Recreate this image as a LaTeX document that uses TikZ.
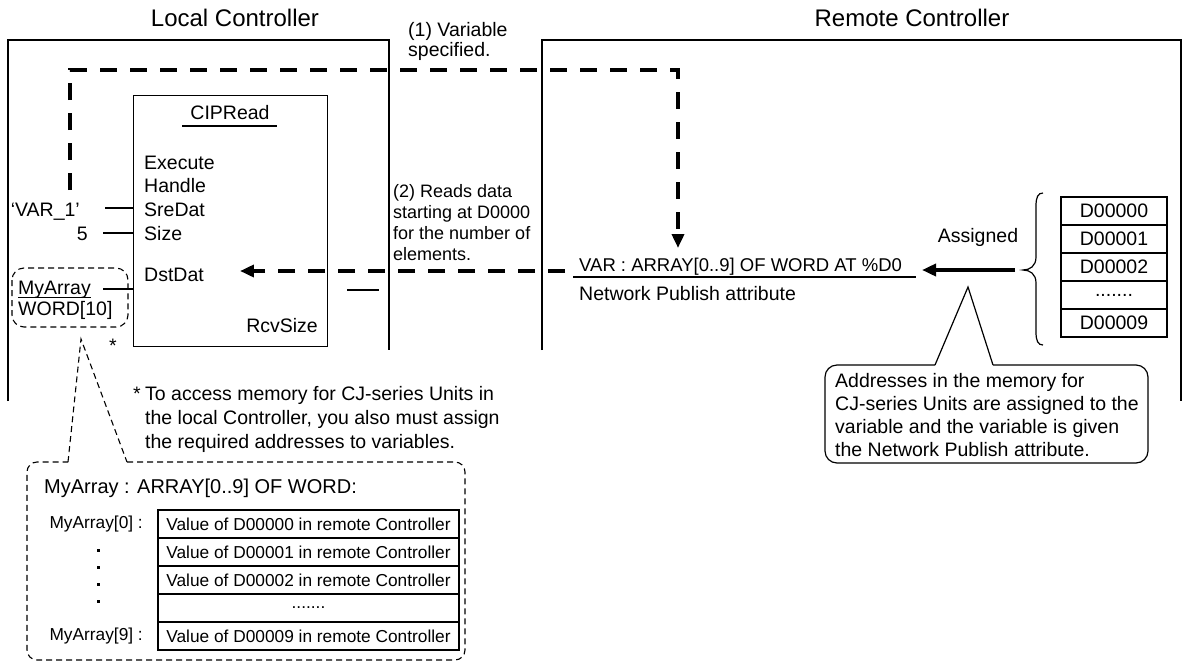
\documentclass[tikz,border=0pt]{standalone}
\usepackage{fontspec}
\setmainfont{Liberation Sans}
\usetikzlibrary{arrows.meta}
\newcommand\fsz[2]{\fontsize{#1}{#2}\selectfont}
\begin{document}
\begin{tikzpicture}[x=1pt,y=-1pt,
  frame/.style={line width=1.6pt},
  thinline/.style={line width=1.2pt},
  bigdash/.style={line width=4pt, dash pattern=on 17pt off 13pt},
  smalldash/.style={line width=1.1pt, dash pattern=on 6pt off 4pt},
  tip/.style={-{Triangle[length=14pt,width=12pt]}},
  txt/.style={inner sep=0pt, font=\fsz{19.5}{21}},
  ttl/.style={inner sep=0pt, font=\fsz{24}{26}},
  small/.style={inner sep=0pt, font=\fsz{17.3}{20}},
  lcell/.style={draw, line width=1.2pt, minimum width=301pt, minimum height=28pt, inner sep=0pt, font=\fsz{17.3}{20}},
  rcell/.style={draw, line width=1.2pt, minimum width=106pt, minimum height=28pt, inner sep=0pt, font=\fsz{19.5}{21}}
]
\useasboundingbox (0,0) rectangle (1183,662);

% titles
\node[ttl] (ltitle) at (235,18) {Local Controller};
\node[ttl] (rtitle) at (912,18) {Remote Controller};

% controller frames
\draw[frame] (8,401) -- (8,40) -- (389,40) -- (389,350);
\draw[frame] (542,350) -- (542,40) -- (1181,40) -- (1181,401);

% CIPRead block
\node[draw, thinline, minimum width=194pt, minimum height=251pt, anchor=north west, inner sep=0pt] (cip) at (133,95) {};
\node[txt] (cipt) at (230,113) {CIPRead};
\draw[thinline] (182,126) -- (277,126);
\node[txt, anchor=base west] (exe) at (144,169) {Execute};
\node[txt, anchor=base west] (hdl) at (144,192) {Handle};
\node[txt, anchor=base west] (sre) at (144,216) {SreDat};
\node[txt, anchor=base west] (siz) at (144,240) {Size};
\node[txt, anchor=base west] (dst) at (144,281) {DstDat};
\node[txt, anchor=base east] (rcv) at (318,332) {RcvSize};

% inputs
\node[txt, anchor=base east] (v1) at (80,216) {‘VAR\_1’};
\node[txt, anchor=base east] (five) at (88,240) {5};
\coordinate (in1) at (105,208);
\coordinate (in2) at (103,233);
\coordinate (in3) at (103,289);
\draw[thinline] (in1) -- (in1 -| cip.west);
\draw[thinline] (in2) -- (in2 -| cip.west);
\draw[thinline] (in3) -- (in3 -| cip.west);
\coordinate (out1) at (347,290);
\coordinate (out2) at (379,290);
\draw[thinline] (out1) -- (out2);

% MyArray variable
\draw[smalldash, rounded corners=12pt] (12,268) rectangle (128,327);
\node[txt, anchor=base west] (mya) at (18,294) {MyArray};
\draw[line width=1pt] (18,297) -- (91,297);
\node[txt, anchor=base west] (wrd) at (18,315) {WORD[10]};
\node[txt] (ast1) at (113,346) {*};

% footnote
\node[txt, anchor=base west] (ast2) at (133,400) {*};
\node[txt, anchor=north west, align=left, font=\fsz{19.5}{24}] (fn) at (145,386)
  {To access memory for CJ-series Units in\\the local Controller, you also must assign\\the required addresses to variables.};

% zoom callout to bottom box
\draw[smalldash, rounded corners=10pt] (127,462) -- (465,462) -- (465,660) -- (27,660) -- (27,462) -- (68,462);
\draw[smalldash] (68,462) -- (81,339) -- (127,462);
\node[txt, anchor=base west, font=\fsz{20}{22}] (hd) at (44,493) {MyArray : ARRAY[0..9] OF WORD:};
\node[lcell] (c0) at (308.5,524) {Value of D00000 in remote Controller};
\node[lcell] (c1) at (308.5,552) {Value of D00001 in remote Controller};
\node[lcell] (c2) at (308.5,580) {Value of D00002 in remote Controller};
\node[lcell] (c3) at (308.5,608) {.......};
\node[lcell] (c9) at (308.5,636) {Value of D00009 in remote Controller};
\node[small, anchor=east] (l0) at (143,524) {MyArray[0] :};
\node[small, anchor=east] (l9) at (143,636) {MyArray[9] :};
\foreach \yy in {550,567,584,601} \fill (96.5,\yy-1.5) rectangle (99.5,\yy+1.5);

% middle texts
\node[txt, anchor=north west, align=left, font=\fsz{19.5}{20}] (t1) at (408,22.5) {(1) Variable\\specified.};
\node[txt, anchor=north west, align=left, font=\fsz{18}{21}] (t2) at (393,184) {(2) Reads data\\starting at D0000\\for the number of\\elements.};

% remote variable
\node[txt, anchor=base west, font=\fsz{18.5}{21}] (var) at (579,271) {VAR : ARRAY[0..9] OF WORD AT \%D0};
\draw[thinline] (573,277) -- (916,277);
\node[txt, anchor=base west] (npa) at (579,300) {Network Publish attribute};

% dashed arrows
\coordinate (s1) at (70,190);
\coordinate (e1) at (678,248);
\draw[bigdash, tip] (s1) -- (70,70) -- (678,70) -- (e1);
\coordinate (s2) at (565,271);
\draw[bigdash, tip] (s2) -- ([xshift=36pt]dst.east |- s2);

% memory table
\node[rcell] (d0) at (1114,211) {D00000};
\node[rcell] (d1) at (1114,239) {D00001};
\node[rcell] (d2) at (1114,267) {D00002};
\node[rcell] (d3) at (1114,295) {.......};
\node[rcell] (d9) at (1114,323) {D00009};
\draw[thinline] (1043,193) .. controls (1038,193) and (1036,197) .. (1036,206) -- (1036,257)
  .. controls (1036,266) and (1030,270) .. (1023,270)
  .. controls (1030,270) and (1036,274) .. (1036,283) -- (1036,332)
  .. controls (1036,341) and (1038,345) .. (1043,345);
\coordinate (btip) at (1015,270);
\draw[line width=4pt, tip] (btip) -- (922,270);
\node[txt] (asg) at (978,237) {Assigned};

% callout on the right
\draw[thinline, rounded corners=12pt] (993,365) -- (1148,365) -- (1148,463) -- (825,463) -- (825,365) -- (935,365);
\draw[thinline] (935,365) -- (968,287) -- (993,365);
\node[txt, anchor=north west, align=left, font=\fsz{19.5}{23}] (co) at (835,373)
  {Addresses in the memory for\\CJ-series Units are assigned to the\\variable and the variable is given\\the Network Publish attribute.};
\end{tikzpicture}
\end{document}
